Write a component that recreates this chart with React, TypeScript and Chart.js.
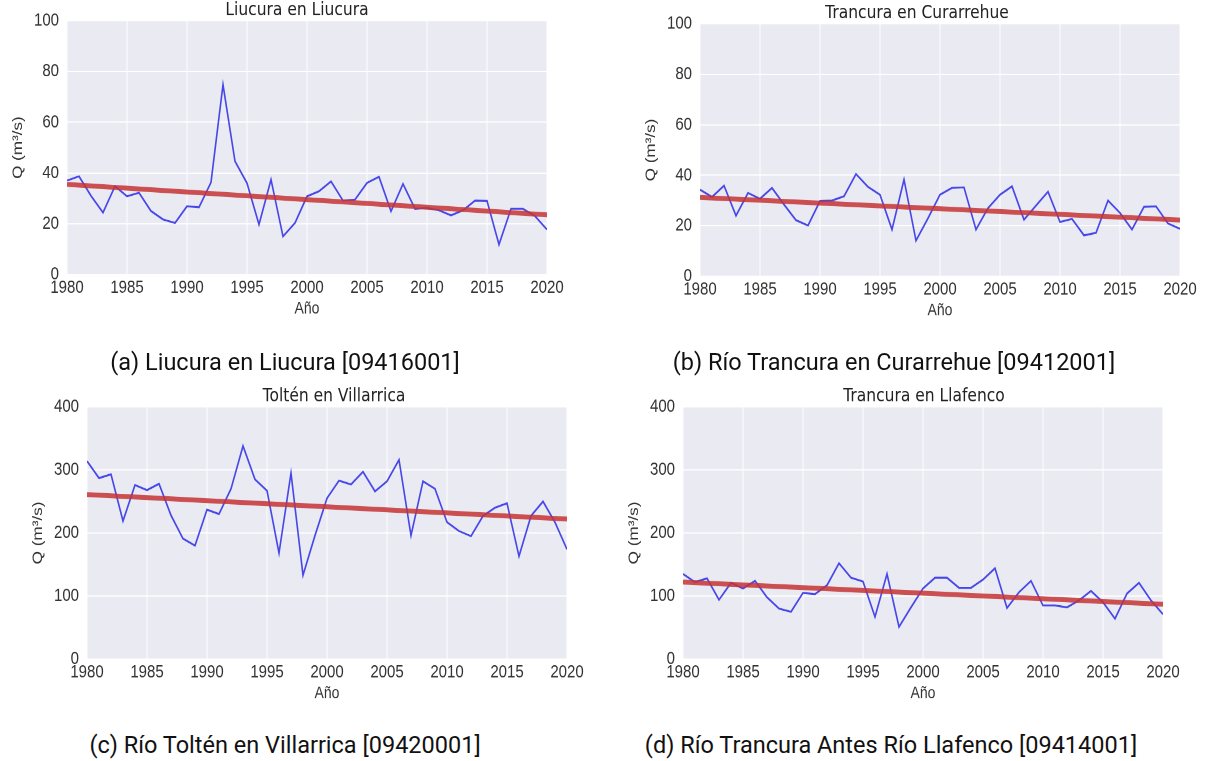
import React, { useEffect, useRef } from "react";
import { Chart, registerables } from "chart.js";

Chart.register(...registerables);

// Hydrological years on the x axis
const years = [
  1980, 1981, 1982, 1983, 1984, 1985, 1986, 1987, 1988, 1989, 1990,
  1991, 1992, 1993, 1994, 1995, 1996, 1997, 1998, 1999, 2000,
  2001, 2002, 2003, 2004, 2005, 2006, 2007, 2008, 2009, 2010,
  2011, 2012, 2013, 2014, 2015, 2016, 2017, 2018, 2019, 2020,
];

// Mean annual discharge (m³/s) per station
const liucuraQ = [
  37, 38.7, 31, 24.4, 34.8, 30.8, 32.2, 25, 21.7, 20.3, 26.9,
  26.5, 36.3, 74.8, 44.6, 36, 19.7, 37.4, 15, 20.3, 30.8,
  32.8, 36.7, 29.1, 29.5, 36.1, 38.5, 24.9, 35.7, 25.9, 26.2,
  25.3, 23.3, 25.3, 29.1, 29, 11.8, 25.9, 25.9, 23, 17.7,
];
const curarrehueQ = [
  34.3, 31.4, 35.9, 24, 33, 30.7, 35, 28.4, 22.2, 20.1, 29.8,
  30, 31.7, 40.5, 35.4, 32.3, 18.5, 38.3, 14.1, 23, 32.3,
  35, 35.2, 18.5, 27, 32.3, 35.6, 22.4, 28, 33.5, 21.5,
  22.7, 16.2, 17.2, 30, 25.1, 18.5, 27.5, 27.7, 20.9, 18.8,
];
const villarricaQ = [
  314, 287, 293, 219, 276, 268, 278, 228, 191, 180, 237,
  230, 270, 338, 285, 267, 168, 295, 133, 196, 255,
  283, 277, 297, 266, 282, 316, 196, 282, 270, 217,
  203, 195, 227, 240, 247, 163, 227, 250, 217, 174,
];
const llafencoQ = [
  135, 122, 128, 94, 121, 112, 124, 98, 80, 75, 105,
  103, 117, 152, 129, 123, 67, 135, 51, 82, 112,
  129, 129, 113, 113, 126, 144, 81, 106, 124, 85,
  85, 82, 93, 108, 90, 64, 104, 121, 93, 71,
];

// Linear trend, start and end of the record
const trendYears = [1980, 2020];
const liucuraTrend = [35.5, 23.5];
const curarrehueTrend = [31.2, 22.3];
const villarricaTrend = [261, 222];
const llafencoTrend = [122, 87];

// Axis ticks
const yearTicks = [1980, 1985, 1990, 1995, 2000, 2005, 2010, 2015, 2020];
const smallQTicks = [0, 20, 40, 60, 80, 100];
const largeQTicks = [0, 100, 200, 300, 400];

const titles = [
  "Liucura en Liucura",
  "Trancura en Curarrehue",
  "Toltén en Villarrica",
  "Trancura en Llafenco",
];
const captions = [
  "(a) Liucura en Liucura [09416001]",
  "(b) Río Trancura en Curarrehue [09412001]",
  "(c) Río Toltén en Villarrica [09420001]",
  "(d) Río Trancura Antes Río Llafenco [09414001]",
];

// vertical stretch of each exported panel
const S = 1.22;
const AXIS_W = 67;
const PLOT_W = 480;
const RIGHT_PAD = 53;
const TOP_PAD = 26;
const XAXIS_H = 40;
const BOTTOM_PAD = 4;

const TICK_FONT = { family: "'Liberation Sans', Arial, sans-serif", size: 15 };
const TEXT = "#333333";

const panelTitlePlugin = {
  id: "panelTitle",
  afterDraw(chart: any, _args: any, opts: any) {
    const { ctx, chartArea } = chart;
    ctx.save();
    ctx.font = "15.5px 'DejaVu Sans', sans-serif";
    ctx.fillStyle = "#222222";
    ctx.textAlign = "center";
    ctx.textBaseline = "middle";
    ctx.fillText(opts.text, (chartArea.left + chartArea.right) / 2 + opts.shift, chartArea.top - 8.5);
    ctx.restore();
  },
};

const plotBackgroundPlugin = {
  id: "plotBackground",
  beforeDraw(chart: any) {
    const { ctx, chartArea } = chart;
    ctx.save();
    ctx.fillStyle = "#EAEAF2";
    ctx.fillRect(chartArea.left, chartArea.top, chartArea.right - chartArea.left, chartArea.bottom - chartArea.top);
    ctx.restore();
  },
};

type PanelProps = {
  title: string;
  titleShift: number;
  values: number[];
  trend: number[];
  yMax: number;
  yTicks: number[];
  plotLeft: number;
  plotTop: number;
  plotH: number;
};

function Panel(p: PanelProps) {
  const ref = useRef<HTMLCanvasElement>(null);
  const innerH = p.plotH / S;
  const canvasW = AXIS_W + PLOT_W + RIGHT_PAD;
  const canvasH = TOP_PAD + innerH + XAXIS_H + BOTTOM_PAD;

  useEffect(() => {
    if (!ref.current) return;
    const chart = new Chart(ref.current, {
      type: "line",
      data: {
        datasets: [
          {
            data: trendYears.map((x, i) => ({ x, y: p.trend[i] })),
            borderColor: "rgba(198, 52, 52, 0.85)",
            borderWidth: 4,
            pointRadius: 0,
            order: 0,
          },
          {
            data: years.map((x, i) => ({ x, y: p.values[i] })),
            borderColor: "rgba(30, 30, 230, 0.8)",
            borderWidth: 1.6,
            pointRadius: 0,
            tension: 0,
            order: 1,
          },
        ],
      },
      options: {
        animation: false,
        responsive: false,
        devicePixelRatio: 2,
        layout: { padding: { left: 0, right: RIGHT_PAD, top: TOP_PAD, bottom: BOTTOM_PAD } },
        plugins: {
          legend: { display: false },
          tooltip: { enabled: false },
          panelTitle: { text: p.title, shift: p.titleShift },
        } as any,
        scales: {
          x: {
            type: "linear",
            min: 1980,
            max: 2020,
            afterBuildTicks: (s: any) => {
              s.ticks = yearTicks.map((v) => ({ value: v }));
            },
            afterFit: (s: any) => {
              s.height = XAXIS_H;
            },
            ticks: {
              callback: (v: any) => String(v),
              font: TICK_FONT,
              color: TEXT,
              padding: 2,
              maxRotation: 0,
              autoSkip: false,
            },
            grid: { color: "#ffffff", lineWidth: 1, drawTicks: false },
            border: { display: false },
            title: {
              display: true,
              text: "Año",
              font: { family: "'Liberation Sans', Arial, sans-serif", size: 14 },
              color: TEXT,
              padding: { top: 0, bottom: 3.6 },
            },
          },
          y: {
            type: "linear",
            min: 0,
            max: p.yMax,
            afterBuildTicks: (s: any) => {
              s.ticks = p.yTicks.map((v) => ({ value: v }));
            },
            afterFit: (s: any) => {
              s.width = AXIS_W;
            },
            ticks: {
              callback: (v: any) => String(v),
              font: TICK_FONT,
              color: TEXT,
              padding: 8,
            },
            grid: { color: "#ffffff", lineWidth: 1, drawTicks: false },
            border: { display: false },
            title: {
              display: true,
              text: "Q (m³/s)",
              font: { family: "'Liberation Sans', Arial, sans-serif", size: 14 },
              color: TEXT,
              padding: { top: 9.6, bottom: 0 },
            },
          },
        },
      },
      plugins: [plotBackgroundPlugin, panelTitlePlugin],
    } as any);
    return () => chart.destroy();
  }, []);

  return (
    <div
      style={{
        position: "absolute",
        left: p.plotLeft - AXIS_W,
        top: p.plotTop - TOP_PAD * S,
        width: canvasW,
        height: canvasH,
        transform: `scaleY(${S})`,
        transformOrigin: "top left",
      }}
    >
      <canvas ref={ref} width={canvasW} height={canvasH} style={{ width: canvasW, height: canvasH, display: "block" }} />
    </div>
  );
}

function Caption({ text, cx, cy }: { text: string; cx: number; cy: number }) {
  return (
    <div
      style={{
        position: "absolute",
        left: cx - 300,
        top: cy - 14,
        width: 600,
        height: 28,
        lineHeight: "28px",
        textAlign: "center",
        fontFamily: "Roboto, 'DejaVu Sans', sans-serif",
        fontSize: 23.5,
        color: "#111111",
        whiteSpace: "nowrap",
      }}
    >
      {text}
    </div>
  );
}

export default function App() {
  return (
    <div style={{ position: "absolute", left: 0, top: 0, width: 1207, height: 761, background: "#ffffff", overflow: "hidden" }}>
      <Panel title={titles[0]} titleShift={-10} values={liucuraQ} trend={liucuraTrend} yMax={100} yTicks={smallQTicks} plotLeft={67} plotTop={21} plotH={254} />
      <Panel title={titles[1]} titleShift={-23} values={curarrehueQ} trend={curarrehueTrend} yMax={100} yTicks={smallQTicks} plotLeft={700} plotTop={24} plotH={253} />
      <Panel title={titles[2]} titleShift={7} values={villarricaQ} trend={villarricaTrend} yMax={400} yTicks={largeQTicks} plotLeft={87} plotTop={407} plotH={252} />
      <Panel title={titles[3]} titleShift={1} values={llafencoQ} trend={llafencoTrend} yMax={400} yTicks={largeQTicks} plotLeft={683} plotTop={407} plotH={252} />
      <Caption text={captions[0]} cx={285} cy={362} />
      <Caption text={captions[1]} cx={894} cy={362} />
      <Caption text={captions[2]} cx={285} cy={745} />
      <Caption text={captions[3]} cx={891} cy={745} />
    </div>
  );
}
